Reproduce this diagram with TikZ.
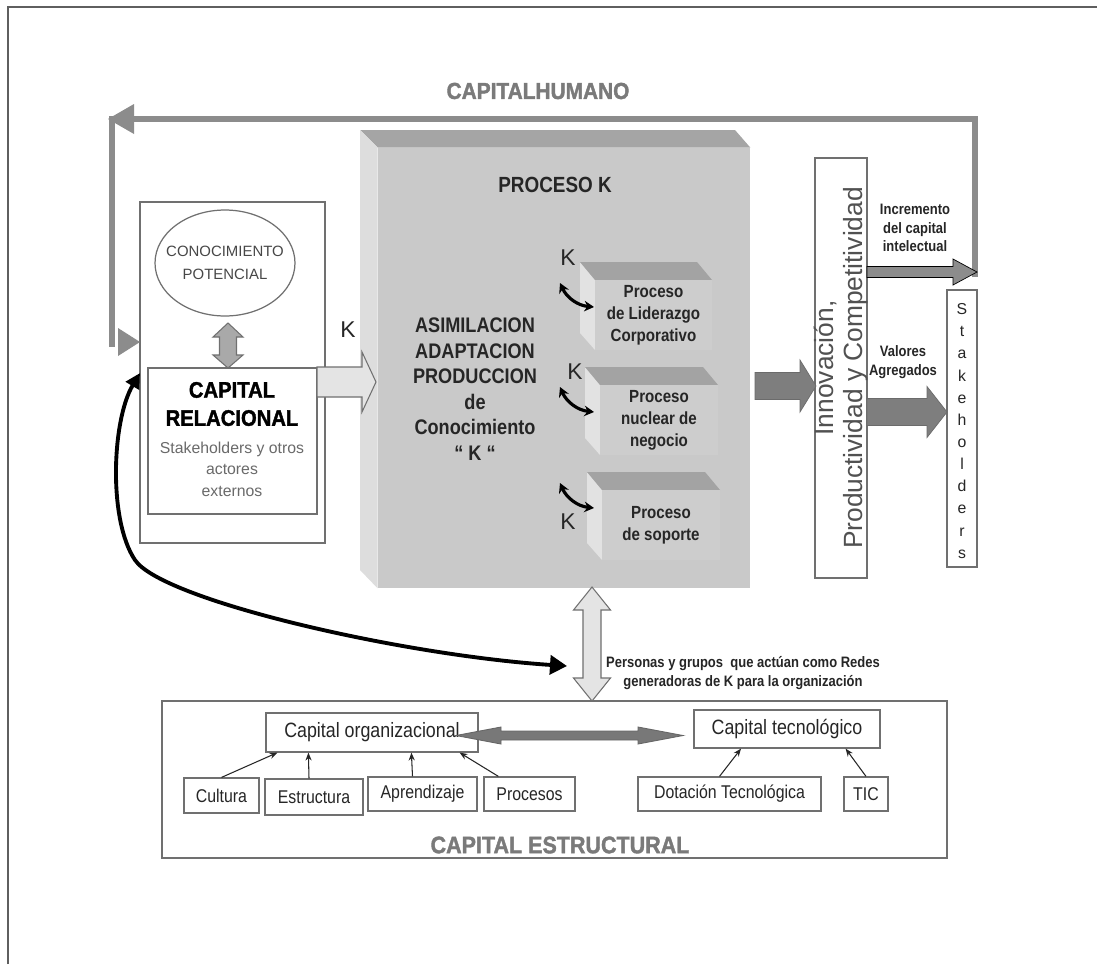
\documentclass[tikz,border=0pt]{standalone}
\usepackage{fontspec}
\setmainfont{Liberation Sans}
\newfontfamily\nrw[FakeStretch=0.86]{Liberation Sans}
\newfontfamily\dispfont[FakeStretch=0.9, FakeBold=1.6]{Liberation Sans}
\usetikzlibrary{arrows.meta,fit,shapes.geometric,shadows,calc}
\definecolor{framec}{HTML}{5F5F5F}
\definecolor{loopc}{HTML}{8C8C8C}
\definecolor{darkarr}{HTML}{7E7E7E}
\definecolor{midarr}{HTML}{A9A9A9}
\definecolor{lightarr}{HTML}{E4E4E4}
\definecolor{boxline}{HTML}{707070}
\definecolor{pfront}{HTML}{C9C9C9}
\definecolor{ptop}{HTML}{A5A5A5}
\definecolor{pside}{HTML}{DDDDDD}
\definecolor{sfront}{HTML}{CDCDCD}
\definecolor{stopc}{HTML}{A3A3A3}
\definecolor{sside}{HTML}{E2E2E2}
\definecolor{txtgray}{HTML}{6A6A6A}
\definecolor{titlegray}{HTML}{7A7A7A}
\definecolor{darktxt}{HTML}{262626}
\tikzset{
  rbox/.style={draw=boxline, line width=0.7pt, inner sep=0pt},
  rowbox/.style={rbox, fill=white, drop shadow={shadow xshift=0.7pt, shadow yshift=-0.7pt, fill=black!35}},
  lbl/.style={inner sep=0pt, align=center},
  kfont/.style={lbl, font=\fontsize{13}{13}\selectfont, text=darktxt},
  ptxt/.style={lbl, font=\nrw\bfseries\fontsize{10}{12.5}\selectfont, text=darktxt},
  rowtxt/.style={lbl, font=\nrw\fontsize{10.5}{12}\selectfont, text=darktxt},
  smalltxt/.style={lbl, font=\nrw\bfseries\fontsize{8.6}{10.4}\selectfont, text=darktxt},
  curvek/.style={line width=1.8pt, {Stealth[length=5.5pt,width=6pt]}-{Stealth[length=5.5pt,width=6pt]}},
  smallarr/.style={line width=0.6pt, draw=darktxt, -{Stealth[length=4.5pt,width=3.5pt]}},
  blockdark/.style={fill=darkarr, draw=darkarr!85!black, line width=0.4pt},
  blockmid/.style={fill=midarr, draw=boxline, line width=0.6pt},
  blockgray/.style={fill=darkarr!95!black, draw=black!60, line width=0.5pt},
  blocklight/.style={fill=lightarr, draw=boxline, line width=0.6pt},
  loopline/.style={draw=loopc, line width=0.13cm, line join=miter},
}
% horizontal block arrow: style, xstart, xheadbase, xtip, ycentre, half shaft, half head
\newcommand\blkarrow[7]{\draw[#1] (#2,{#5-#6}) -- (#3,{#5-#6}) -- (#3,{#5-#7}) -- (#4,#5) -- (#3,{#5+#7}) -- (#3,{#5+#6}) -- (#2,{#5+#6}) -- cycle;}
% vertical double block arrow: style, xc, ytop, ytopbase, ybotbase, ybot, half shaft, half head
\newcommand\vdblarrow[8]{\draw[#1] (#2,#3) -- ({#2+#8},#4) -- ({#2+#7},#4) -- ({#2+#7},#5) -- ({#2+#8},#5) -- (#2,#6) -- ({#2-#8},#5) -- ({#2-#7},#5) -- ({#2-#7},#4) -- ({#2-#8},#4) -- cycle;}
% horizontal double block arrow: style, yc, xleft, xleftbase, xrightbase, xright, half shaft, half head
\newcommand\hdblarrow[8]{\draw[#1] (#3,#2) -- (#4,{#2-#8}) -- (#4,{#2-#7}) -- (#5,{#2-#7}) -- (#5,{#2-#8}) -- (#6,#2) -- (#5,{#2+#8}) -- (#5,{#2+#7}) -- (#4,{#2+#7}) -- (#4,{#2+#8}) -- cycle;}
% small 3D box: name, xleft, xfront, xright, ybacktop, yfronttop, ybottom
\newcommand\procbox[7]{%
  \fill[sside] (#2,#5) -- (#3,#6) -- (#3,#7) -- (#2,{#7-17}) -- cycle;
  \fill[stopc] (#2,#5) -- ({#4-15},#5) -- (#4,#6) -- (#3,#6) -- cycle;
  \node[fill=sfront, inner sep=0pt, fit={(#3,#6) (#4,#7)}] (#1) {};}
\begin{document}
\begin{tikzpicture}[x=0.02cm,y=-0.02cm]
\useasboundingbox (0,0) rectangle (1097,964);
\fill[white] (0,0) rectangle (1097,964);
% frame
\draw[framec, line width=1.2pt] (8,964) -- (8,7) -- (1097,7);

% title
\node[lbl, font=\dispfont\bfseries\fontsize{13.2}{14}\selectfont, text=titlegray] (tHum) at (538,91) {CAPITALHUMANO};

% central 3D box
\node[fill=pfront, inner sep=0pt, fit={(378,148) (750,588)}] (proc) {};
\fill[ptop] (360,130) -- (735,130) -- (proc.north east) -- (proc.north west) -- cycle;
\fill[pside] (360,130) -- (proc.north west) -- (proc.south west) -- (360,570) -- cycle;
\node[lbl, font=\nrw\bfseries\fontsize{12.5}{14}\selectfont, text=darktxt] (tProc) at (555,185) {PROCESO K};
\node[lbl, font=\nrw\bfseries\fontsize{12}{14.5}\selectfont, text=darktxt] (asim) at (475,389)
  {ASIMILACION\\ADAPTACION\\PRODUCCION\\de\\Conocimiento\\“ K “};

% small process boxes
\procbox{b1}{580}{595}{712}{262}{280}{350}
\procbox{b2}{585}{600}{718}{367}{385}{455}
\procbox{b3}{587}{602}{720}{472}{490}{560}
\node[ptxt] (t1) at (b1.center) {Proceso\\de Liderazgo\\Corporativo};
\node[ptxt] (t2) at (b2.center) {Proceso\\nuclear de\\negocio};
\node[ptxt] (t3) at (b3.center) {Proceso\\de soporte};
\node[kfont] (k1) at (568,258) {K};
\node[kfont] (k2) at (575,372) {K};
\node[kfont] (k3) at (568,522) {K};
\coordinate (k1a) at (560,283); \coordinate (k1b) at (594,307);
\coordinate (k2a) at (560,387); \coordinate (k2b) at (594,412);
\coordinate (k3a) at (560,483); \coordinate (k3b) at (594,508);
\draw[curvek] (k1a) to[bend right=30] (k1b);
\draw[curvek] (k2a) to[bend right=30] (k2b);
\draw[curvek] (k3a) to[bend right=30] (k3b);

% left box
\node[rbox, fit={(140,202) (325,543)}] (lbox) {};
\node[draw=boxline, line width=0.7pt, ellipse, minimum width=2.8cm, minimum height=2.12cm, inner sep=0pt] (pot) at (225,263) {};
\node[lbl, font=\fontsize{8.5}{13}\selectfont, text=darktxt!85] (tpot) at (pot.center) {CONOCIMIENTO\\POTENCIAL};
\node[rbox, fit={(148,368) (317,514)}] (rel) {};
\vdblarrow{blockmid}{228}{323}{337}{355}{368}{8.5}{15}
\node[lbl, font=\dispfont\bfseries\fontsize{12.8}{16}\selectfont] (trel) at (232,404) {CAPITAL\\RELACIONAL};
\node[lbl, font=\fontsize{9}{12.2}\selectfont, text=txtgray] (tstk) at (232,469) {Stakeholders y otros\\actores\\externos};

% K arrow to central box
\blkarrow{blocklight}{317}{362}{376}{382}{15}{30}
\node[kfont] (k0) at (348,330) {K};

% right side
\node[rbox, fit={(815,158) (867,578)}] (inn) {};
\node[lbl, rotate=90, font=\fontsize{15}{16}\selectfont, text=darktxt!80] (tinn) at (inn.center) {Innovación,\\Productividad y Competitividad};
\node[rbox, fit={(947,290) (977,567)}] (stk) {};
\node[lbl, font=\fontsize{9}{12.6}\selectfont, text=darktxt] (tstkl) at (962,431) {S\\t\\a\\k\\e\\h\\o\\l\\d\\e\\r\\s};
\node[smalltxt] (tinc) at (915,228) {Incremento\\del capital\\intelectual};
\node[smalltxt] (tval) at (903,362) {Valores\\Agregados};
\blkarrow{blockdark}{755}{800}{816}{386}{13.5}{26}
\blkarrow{blockdark}{867}{927}{947}{412}{13.5}{25.5}

% capital humano loop
\coordinate (lpR) at (975,277);
\coordinate (lpTR) at (975,119);
\coordinate (lpTL) at (112,119);
\coordinate (lpBL) at (112,347);
\draw[loopline] (lpR) -- (lpTR) -- (lpTL) -- (lpBL);
\blkarrow{fill=loopc}{867}{953}{977}{272}{5.5}{13}
\fill[loopc] (108,119) -- (134,104) -- (134,134) -- cycle;
\fill[loopc] (140,342) -- (118,328) -- (118,356) -- cycle;

% personas double arrow
\vdblarrow{blocklight}{592}{587}{610}{678}{701}{9}{18.5}
\node[smalltxt] (pers) at (743,673) {Personas y grupos\ \ que actúan como Redes\\generadoras de K para la organización};

% black curve
\coordinate (cA) at (140,373);
\coordinate (cB) at (567,666);
\draw[line width=2.2pt, {Triangle[length=0.3cm,width=0.3cm]}-{Triangle[length=0.34cm,width=0.38cm]}]
  (cA) .. controls (112,420) and (108,520) .. (135,560) .. controls (162,600) and (400,655) .. (cB);

% capital estructural
\node[rbox, fit={(162,701) (947,858)}] (est) {};
\node[rbox, fill=white, fit={(266,713) (478,752)}] (corg) {};
\node[lbl, font=\nrw\fontsize{11.8}{12}\selectfont, text=darktxt] (tcorg) at (corg.center) {Capital organizacional};
\node[rbox, fill=white, fit={(694,710) (880,748)}] (ctec) {};
\node[lbl, font=\nrw\fontsize{11.8}{12}\selectfont, text=darktxt] (tctec) at (ctec.center) {Capital tecnológico};
\hdblarrow{blockgray}{735.5}{456}{501}{638}{683}{4.5}{8.5}

\node[rowbox, fit={(184,778) (259,813)}] (cult) {};
\node[rowbox, fit={(265,779) (363,815)}] (estr) {};
\node[rowbox, fit={(368,777) (477,811)}] (apr) {};
\node[rowbox, fit={(484,777) (575,811)}] (pros) {};
\node[rowbox, fit={(638,777) (821,811)}] (dot) {};
\node[rowbox, fit={(844,777) (888,811)}] (tic) {};
\node[rowtxt] at (cult.center) {Cultura};
\node[rowtxt] at (estr.center) {Estructura};
\node[rowtxt] at (apr.center) {Aprendizaje};
\node[rowtxt] at (pros.center) {Procesos};
\node[rowtxt] at (dot.center) {Dotación Tecnológica};
\node[rowtxt] at (tic.center) {TIC};

\draw[smallarr] (cult.north) -- ($(corg.south west)+(12,0)$);
\draw[smallarr] ($(estr.north)+(-5,0)$) -- ($(corg.south west)+(43,0)$);
\draw[smallarr] ($(apr.north)+(-10,0)$) -- ($(corg.south west)+(146,0)$);
\draw[smallarr] ($(pros.north west)+(15,0)$) -- ($(corg.south east)+(-19,0)$);
\draw[smallarr] ($(dot.north)+(-10,0)$) -- ($(ctec.south)+(-46,0)$);
\draw[smallarr] (tic.north) -- ($(ctec.south east)+(-35,0)$);

\node[lbl, font=\dispfont\bfseries\fontsize{13.6}{14}\selectfont, text=titlegray] (tEst) at (560,845) {CAPITAL ESTRUCTURAL};
\end{tikzpicture}
\end{document}
